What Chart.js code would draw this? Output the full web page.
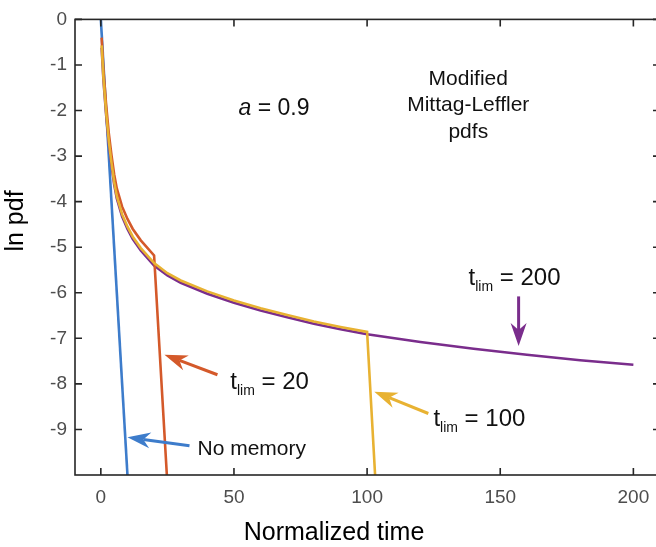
<!DOCTYPE html>
<html lang="en">
<head>
  <meta charset="UTF-8">
  <title>Modified Mittag-Leffler pdfs</title>
  <script src="https://cdn.jsdelivr.net/npm/chart.js"></script>
  <style>
    html, body { margin: 0; padding: 0; overflow: hidden; background: #fff; }
    canvas { display: block; }
  </style>
</head>
<body>
  <canvas id="mlChart" width="661" height="547"></canvas>

  <script>
    // values (ln pdf against normalized time)
    const tNoMemory = [0, 10];
    const lnNoMemory = [0, -10];

    const tLim20 = [0.3, 1, 2, 3, 4, 5, 6, 8, 10, 12, 15, 20, 24.8];
    const lnLim20 = [-0.4, -1.13, -1.88, -2.5, -2.98, -3.4, -3.71, -4.11, -4.38, -4.6, -4.85, -5.18, -10];

    const tLim100 = [0.3, 1, 2, 3, 4, 5, 6, 8, 10, 12, 15, 20, 25, 30, 40, 50, 60, 70, 80, 90, 100, 103];
    const lnLim100 = [-0.57, -1.3, -2.05, -2.67, -3.15, -3.57, -3.88, -4.28, -4.55, -4.77, -5.02, -5.35, -5.57, -5.73, -5.97, -6.17, -6.34, -6.49, -6.63, -6.75, -6.86, -10];

    const tLim200 = [0.3, 1, 2, 3, 4, 5, 6, 8, 10, 12, 15, 20, 25, 30, 40, 50, 60, 70, 80, 90, 100, 120, 140, 160, 180, 200];
    const lnLim200 = [-0.62, -1.35, -2.1, -2.72, -3.2, -3.62, -3.93, -4.33, -4.6, -4.82, -5.07, -5.4, -5.62, -5.78, -6.02, -6.22, -6.39, -6.54, -6.68, -6.8, -6.91, -7.08, -7.23, -7.36, -7.48, -7.58];

    const xTicks = [0, 50, 100, 150, 200];
    const yTicks = [0, -1, -2, -3, -4, -5, -6, -7, -8, -9];

    const BLUE = '#3d7ccb';
    const ORANGE = '#d4592a';
    const YELLOW = '#e8b232';
    const PURPLE = '#7a2d8c';
    const FONT = '"Liberation Sans", Arial, sans-serif';

    function toPoints(ts, vs) {
      return ts.map((t, i) => ({ x: t, y: vs[i] }));
    }

    // draws the box, inward ticks, axis titles and the annotations
    const decorations = {
      id: 'decorations',
      afterDatasetsDraw(chart) {
        const { ctx, chartArea: a, scales: { x, y } } = chart;
        const px = t => x.getPixelForValue(t);
        const py = v => y.getPixelForValue(v);

        ctx.save();
        ctx.strokeStyle = '#262626';
        ctx.lineWidth = 1.6;
        ctx.strokeRect(a.left, a.top, a.right - a.left, a.bottom - a.top);
        ctx.beginPath();
        xTicks.forEach(v => {
          ctx.moveTo(px(v), a.bottom); ctx.lineTo(px(v), a.bottom - 7);
          ctx.moveTo(px(v), a.top); ctx.lineTo(px(v), a.top + 7);
        });
        yTicks.forEach(v => {
          ctx.moveTo(a.left, py(v)); ctx.lineTo(a.left + 7, py(v));
          ctx.moveTo(a.right, py(v)); ctx.lineTo(a.right - 7, py(v));
        });
        ctx.stroke();

        // axis titles
        ctx.fillStyle = '#000';
        ctx.font = '25px ' + FONT;
        ctx.textAlign = 'center';
        ctx.textBaseline = 'alphabetic';
        ctx.fillText('Normalized time', 334, 540);
        ctx.save();
        ctx.translate(23, 221);
        ctx.rotate(-Math.PI / 2);
        ctx.fillText('ln pdf', 0, 0);
        ctx.restore();

        // text notes
        ctx.fillStyle = '#111';
        ctx.textAlign = 'center';
        ctx.font = '21px ' + FONT;
        ctx.fillText('Modified', px(138), py(-1.44));
        ctx.fillText('Mittag-Leffler', px(138), py(-2.02));
        ctx.fillText('pdfs', px(138), py(-2.6));

        ctx.textAlign = 'left';
        ctx.font = 'italic 23px ' + FONT;
        ctx.fillText('a', px(51.7), py(-2.1));
        let w = ctx.measureText('a').width;
        ctx.font = '23px ' + FONT;
        ctx.fillText(' = 0.9', px(51.7) + w, py(-2.1));

        ctx.font = '21px ' + FONT;
        ctx.fillText('No memory', px(36.3), py(-9.56));

        function tlim(t, v, value) {
          let x0 = px(t), y0 = py(v);
          ctx.font = '24px ' + FONT;
          ctx.fillText('t', x0, y0);
          x0 += ctx.measureText('t').width;
          ctx.font = '14px ' + FONT;
          ctx.fillText('lim', x0, y0 + 6);
          x0 += ctx.measureText('lim').width;
          ctx.font = '24px ' + FONT;
          ctx.fillText(' = ' + value, x0, y0);
        }
        tlim(138.1, -5.83, 200);
        tlim(48.6, -8.11, 20);
        tlim(124.9, -8.92, 100);

        function arrow(t1, v1, t2, v2, color) {
          const x1 = px(t1), y1 = py(v1), x2 = px(t2), y2 = py(v2);
          const ang = Math.atan2(y2 - y1, x2 - x1);
          const len = 23, half = 8, notch = 7;
          const c = Math.cos(ang), s = Math.sin(ang);
          ctx.strokeStyle = color;
          ctx.fillStyle = color;
          ctx.lineWidth = 3;
          ctx.beginPath();
          ctx.moveTo(x1, y1);
          ctx.lineTo(x2 - c * (len - notch), y2 - s * (len - notch));
          ctx.stroke();
          ctx.beginPath();
          ctx.moveTo(x2, y2);
          ctx.lineTo(x2 - c * len - s * half, y2 - s * len + c * half);
          ctx.lineTo(x2 - c * (len - notch), y2 - s * (len - notch));
          ctx.lineTo(x2 - c * len + s * half, y2 - s * len - c * half);
          ctx.closePath();
          ctx.fill();
        }
        arrow(156.9, -6.08, 156.9, -7.17, PURPLE);
        arrow(43.8, -7.8, 23.9, -7.36, ORANGE);
        arrow(33.3, -9.36, 10.0, -9.17, BLUE);
        arrow(123.0, -8.65, 102.7, -8.17, YELLOW);

        ctx.restore();
      }
    };

    const ctx = document.getElementById('mlChart').getContext('2d');
    new Chart(ctx, {
      type: 'line',
      data: {
        datasets: [{
          label: 't_lim = 100',
          data: toPoints(tLim100, lnLim100),
          borderColor: YELLOW
        }, {
          label: 't_lim = 20',
          data: toPoints(tLim20, lnLim20),
          borderColor: ORANGE
        }, {
          label: 't_lim = 200',
          data: toPoints(tLim200, lnLim200),
          borderColor: PURPLE
        }, {
          label: 'No memory',
          data: toPoints(tNoMemory, lnNoMemory),
          borderColor: BLUE
        }]
      },
      options: {
        responsive: false,
        animation: false,
        layout: { padding: { top: 15, right: 1, left: 0, bottom: 0 } },
        elements: {
          point: { radius: 0 },
          line: { borderWidth: 2.6, tension: 0, fill: false }
        },
        plugins: {
          legend: { display: false },
          tooltip: { enabled: false }
        },
        scales: {
          x: {
            type: 'linear',
            min: -9.7,
            max: 210,
            grid: { display: false, drawTicks: false },
            border: { display: false },
            afterBuildTicks: s => { s.ticks = xTicks.map(v => ({ value: v })); },
            afterFit: s => { s.height = 72; },
            ticks: {
              color: '#4d4d4d',
              font: { family: FONT, size: 19 },
              padding: 11,
              maxRotation: 0,
              autoSkip: false
            }
          },
          y: {
            type: 'linear',
            min: -10,
            max: 0,
            grid: { display: false, drawTicks: false },
            border: { display: false },
            afterBuildTicks: s => { s.ticks = yTicks.map(v => ({ value: v })); },
            afterFit: s => { s.width = 75; },
            ticks: {
              color: '#4d4d4d',
              font: { family: FONT, size: 19 },
              padding: 8,
              autoSkip: false
            }
          }
        }
      },
      plugins: [decorations]
    });
  </script>
</body>
</html>
